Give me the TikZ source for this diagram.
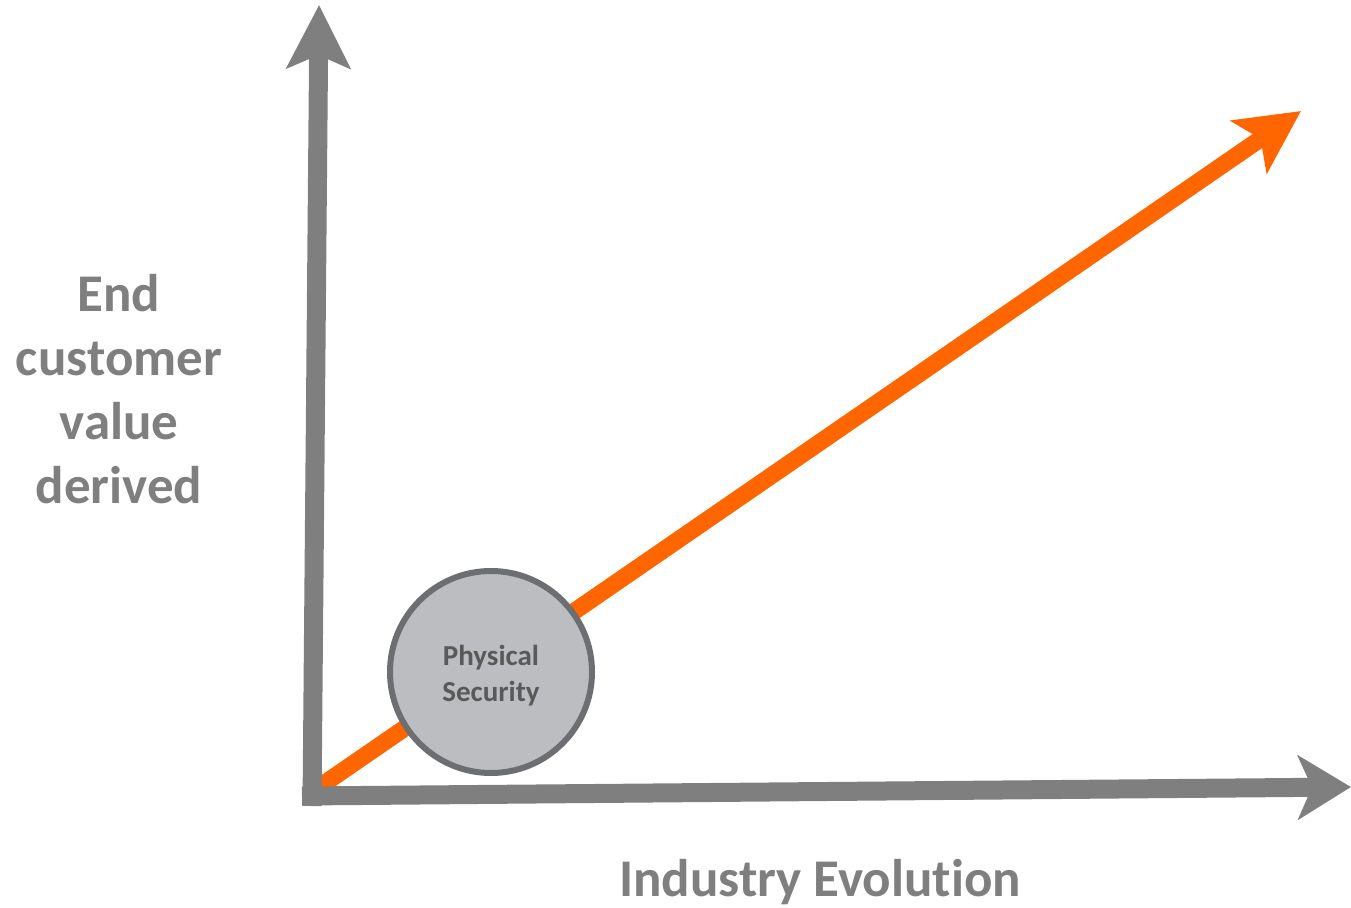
\documentclass[tikz,border=0pt]{standalone}
\usepackage{fontspec}
\setmainfont{Carlito}[RawFeature=-liga]
\usetikzlibrary{arrows.meta}
\definecolor{axisgray}{HTML}{7F7F7F}
\definecolor{trendorange}{HTML}{FF6600}
\definecolor{circfill}{HTML}{BBBDC0}
\definecolor{circline}{HTML}{6D6E71}
\definecolor{circtext}{HTML}{595959}
\begin{document}
\begin{tikzpicture}[x=1pt,y=-1pt,
  axis/.style={draw=axisgray,line width=19pt,-{Stealth[length=63pt,width=63pt,inset=13pt]}},
  trend/.style={draw=trendorange,line width=17pt,-{Stealth[length=63pt,width=63pt,inset=14pt]}},
  bubble/.style={circle,fill=circfill,draw=circline,line width=6pt,minimum size=202pt,inner sep=0pt},
  bubbletext/.style={text=circtext,align=center,font=\bfseries\fontsize{29}{36}\selectfont},
  axlabel/.style={text=axisgray,align=center,inner sep=0pt,font=\bfseries\fontsize{53}{64}\selectfont}]
\useasboundingbox (0,0) rectangle (1351,907);
\coordinate (vbase) at (312,806);
\coordinate (hbase) at (302,796);
\coordinate (ytip) at (319,5);
\coordinate (xtip) at (1351,787);
\coordinate (tstart) at (312,792);
\coordinate (ttip) at (1301,111);
\draw[trend] (tstart) -- (ttip);
\draw[axis] (vbase) -- (ytip);
\draw[axis,-{Stealth[length=53pt,width=64pt,inset=14pt]}] (hbase) -- (xtip);
\node[bubble] (sec) at (491,672) {};
\node[bubbletext] (seclab) at (491,676) {Physical\\Security};
\node[axlabel] (ylab) at (119,389) {End\\customer\\value\\derived};
\node[axlabel] (xlab) at (820,882) {Industry Evolution};
\end{tikzpicture}
\end{document}
